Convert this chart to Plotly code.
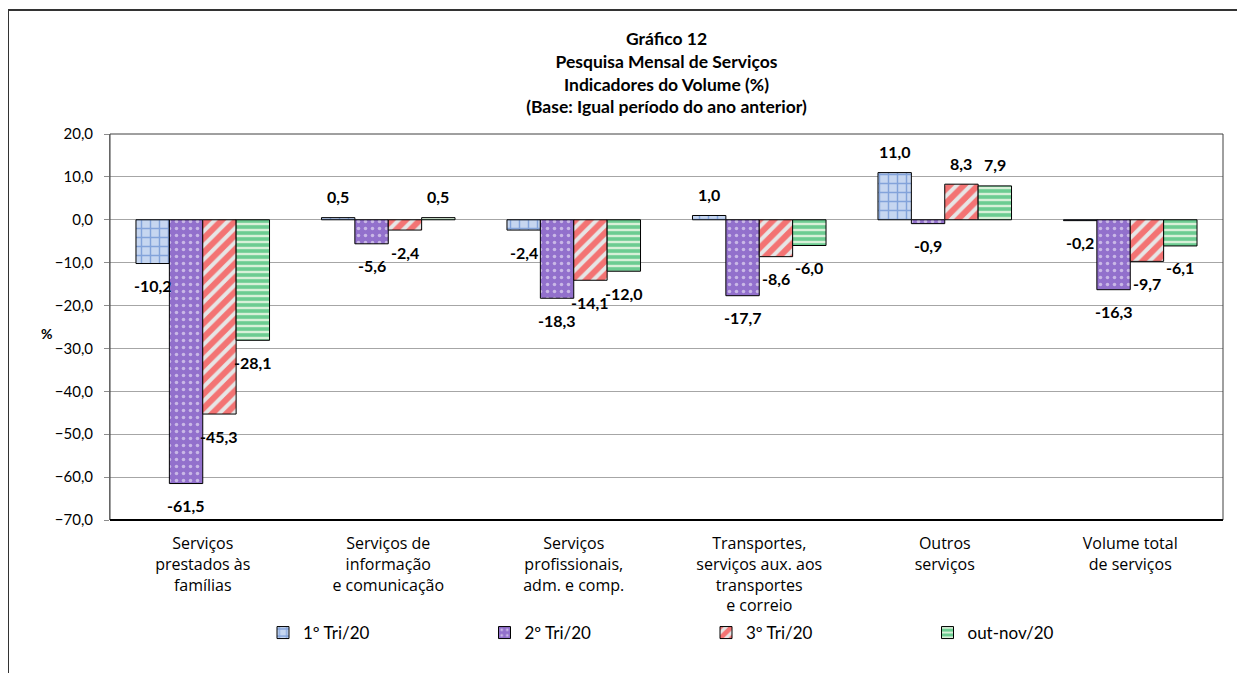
import plotly.graph_objects as go

categories = [
    "Serviços<br>prestados às<br>famílias",
    "Serviços de<br>informação<br>e comunicação",
    "Serviços<br>profissionais,<br>adm. e comp.",
    "Transportes,<br>serviços aux. aos<br>transportes<br>e correio",
    "Outros<br>serviços",
    "Volume total<br>de serviços",
]
series_names = ["1º Tri/20", "2º Tri/20", "3º Tri/20", "out-nov/20"]
tri1 = [-10.2, 0.5, -2.4, 1.0, 11.0, -0.2]
tri2 = [-61.5, -5.6, -18.3, -17.7, -0.9, -16.3]
tri3 = [-45.3, -2.4, -14.1, -8.6, 8.3, -9.7]
outnov = [-28.1, 0.5, -12.0, -6.0, 7.9, -6.1]
y_ticks = [20, 10, 0, -10, -20, -30, -40, -50, -60, -70]

series_values = [tri1, tri2, tri3, outnov]

styles = [
    dict(shape="+", fg="#3f6fc4", bg="#c6d6f0", size=9, sol=0.3),
    dict(shape=".", fg="#ffffff", bg="#9270cc", size=7, sol=0.2),
    dict(shape="/", fg="#ff0000", bg="#e6e6e6", size=10, sol=0.6),
    dict(shape="-", fg="#00a84a", bg="#d8f0d8", size=6, sol=0.6),
]

W, H = 1245, 673
OFF = 8  # page body margin of the html page
# target plot area in screen pixels
PX0, PX1, PY0, PY1 = 110, 1223, 134, 520
ML = PX0 - OFF
MT = PY0 - OFF
MR = W - (PX1 - OFF)
MB = H - (PY1 - OFF)
BARGAP = 0.28
FONT = "Lato, 'Open Sans', sans-serif"
TICKFONT = "'Open Sans', Lato, sans-serif"

fig = go.Figure()
for name, vals, st in zip(series_names, series_values, styles):
    fig.add_trace(go.Bar(
        name=name, x=categories, y=vals,
        marker=dict(
            color=st["bg"],
            line=dict(color="#000000", width=1),
            pattern=dict(shape=st["shape"], fgcolor=st["fg"], bgcolor=st["bg"],
                         size=st["size"], solidity=st["sol"], fillmode="overlay"),
        ),
    ))

plot_w = PX1 - PX0
plot_h = PY1 - PY0


def px_to_paper_x(sx):
    return (sx - PX0) / plot_w


def px_to_paper_y(sy):
    return (PY1 - sy) / plot_h


# data labels
bar_w = plot_w / len(categories) * (1 - BARGAP) / len(series_names)
for i, vals in enumerate(series_values):
    for cat, v in zip(categories, vals):
        fig.add_annotation(
            x=cat, y=v, xref="x", yref="y",
            text="<b>" + f"{v:.1f}".replace(".", ",") + "</b>",
            showarrow=False,
            xshift=(i - 1.5) * bar_w,
            yshift=21 if v >= 0 else -22,
            font=dict(family=FONT, size=16, color="#000000"),
        )

fig.add_annotation(
    text="<b>%</b>", x=px_to_paper_x(39), y=px_to_paper_y(333),
    xref="paper", yref="paper", showarrow=False,
    font=dict(family=FONT, size=14, color="#000000"),
)

# outer frame
fig.add_shape(type="line", xref="paper", yref="paper",
              x0=px_to_paper_x(8), x1=px_to_paper_x(W + 20),
              y0=px_to_paper_y(10), y1=px_to_paper_y(10),
              line=dict(color="#333333", width=2))
fig.add_shape(type="line", xref="paper", yref="paper",
              x0=px_to_paper_x(8), x1=px_to_paper_x(8),
              y0=px_to_paper_y(10), y1=px_to_paper_y(H + 20),
              line=dict(color="#333333", width=2))
# plot area frame
fig.add_shape(type="rect", xref="paper", yref="paper", x0=0, x1=1, y0=0, y1=1,
              line=dict(color="#404040", width=1), layer="above")
fig.add_shape(type="line", xref="paper", yref="paper", x0=0, x1=1, y0=0, y1=0,
              line=dict(color="#000000", width=2), layer="above")

fig.update_layout(
    width=W, height=H,
    margin=dict(l=ML, r=MR, t=MT, b=MB, autoexpand=False),
    paper_bgcolor="#ffffff", plot_bgcolor="#ffffff",
    separators=",.",
    barmode="group", bargap=BARGAP, bargroupgap=0,
    font=dict(family=FONT, size=14, color="#000000"),
    title=dict(
        text="<b>Gráfico 12<br>Pesquisa Mensal de Serviços<br>Indicadores do Volume (%)<br>(Base: Igual período do ano anterior)</b>",
        x=0.5, xref="paper", xanchor="center", y=1 - 37 / H, yanchor="top",
        font=dict(family=FONT, size=17.5, color="#000000"),
    ),
    legend=dict(
        orientation="h", x=px_to_paper_x(263), xanchor="left",
        y=px_to_paper_y(633), yanchor="middle",
        entrywidth=176.5, entrywidthmode="pixels",
        font=dict(family=FONT, size=17, color="#000000"),
        bgcolor="rgba(0,0,0,0)",
    ),
    showlegend=True,
)
fig.update_yaxes(
    range=[-70, 20], tickvals=y_ticks, tickformat=".1f",
    showgrid=True, gridcolor="#a6a6a6", gridwidth=1,
    zeroline=False, showline=True, linecolor="#8c8c8c",
    ticks="outside", ticklen=5, tickcolor="#8c8c8c",
    ticklabelstandoff=8, automargin=False,
    tickfont=dict(family=FONT, size=15, color="#000000"),
)
fig.update_xaxes(
    showgrid=False, showline=False, ticks="", automargin=False,
    ticklabelstandoff=12,
    tickfont=dict(family=TICKFONT, size=16, color="#000000"),
)

fig.write_html("out.html")
